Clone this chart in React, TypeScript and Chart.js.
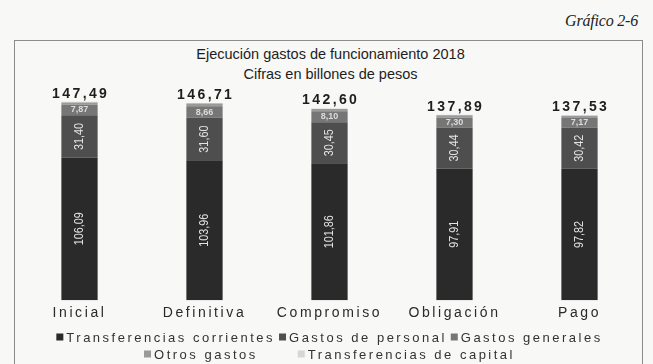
import { useEffect, useRef } from 'react';
import { Chart, registerables } from 'chart.js';

Chart.register(...registerables);

// Ejecución 2018, billones de pesos
const categories = ['Inicial', 'Definitiva', 'Compromiso', 'Obligación', 'Pago'];
const transferenciasCorrientes = [106.09, 103.96, 101.86, 97.91, 97.82];
const gastosPersonal = [31.4, 31.6, 30.45, 30.44, 30.42];
const gastosGenerales = [7.87, 8.66, 8.1, 7.3, 7.17];
const otrosGastos = [1.71, 2.05, 1.8, 1.9, 1.8];
const transferenciasCapital = [0.42, 0.44, 0.39, 0.34, 0.32];

const seriesNames = [
  'Transferencias corrientes',
  'Gastos de personal',
  'Gastos generales',
  'Otros gastos',
  'Transferencias de capital',
];
const seriesColors = ['#2a2a2a', '#4e4e4e', '#767676', '#9a9a9a', '#d6d6d6'];
const legendRows = [[0, 1, 2], [3, 4]];

const fmt = (v: number) => v.toFixed(2).replace('.', ',');

const SANS = '"Liberation Sans", Arial, sans-serif';

// Wide tracking for the axis labels, as in the printed chart
const trackingPlugin = {
  id: 'tracking',
  beforeDraw(chart: any) {
    chart.ctx.letterSpacing = '2.6px';
  },
};

// Values written inside and above the stacked bars
const barLabelsPlugin = {
  id: 'barLabels',
  afterDatasetsDraw(chart: any) {
    const ctx = chart.ctx;
    ctx.save();
    ctx.letterSpacing = '0px';
    ctx.textAlign = 'center';
    ctx.textBaseline = 'middle';

    // rotated labels for the two large segments
    [0, 1].forEach((di) => {
      const meta = chart.getDatasetMeta(di);
      const values = chart.data.datasets[di].data as number[];
      meta.data.forEach((bar: any, i: number) => {
        const cy = (bar.y + bar.base) / 2;
        ctx.save();
        ctx.translate(bar.x, cy);
        ctx.rotate(-Math.PI / 2);
        ctx.scale(0.9, 1);
        ctx.font = `12px ${SANS}`;
        ctx.fillStyle = '#e4e4e4';
        ctx.fillText(fmt(values[i]), 0, 0);
        ctx.restore();
      });
    });

    // small horizontal label for gastos generales
    {
      const meta = chart.getDatasetMeta(2);
      const values = chart.data.datasets[2].data as number[];
      meta.data.forEach((bar: any, i: number) => {
        const cy = (bar.y + bar.base) / 2;
        ctx.font = `bold 9px ${SANS}`;
        ctx.fillStyle = '#dcdcdc';
        ctx.fillText(fmt(values[i]), bar.x, cy);
      });
    }

    // totals above each bar
    const last = chart.getDatasetMeta(chart.data.datasets.length - 1);
    const spacing = 2.4;
    ctx.font = `bold 14px ${SANS}`;
    ctx.letterSpacing = `${spacing}px`;
    ctx.fillStyle = '#1e1e1e';
    ctx.textBaseline = 'bottom';
    last.data.forEach((bar: any, i: number) => {
      const total = chart.data.datasets.reduce(
        (s: number, d: any) => s + (d.data[i] as number),
        0
      );
      ctx.fillText(fmt(total), bar.x + spacing / 2, bar.y - 1);
    });
    ctx.restore();
  },
};

// Two-row legend under the category labels
const legendPlugin = {
  id: 'rowLegend',
  afterDraw(chart: any) {
    const ctx = chart.ctx;
    ctx.save();
    ctx.font = `13px ${SANS}`;
    ctx.letterSpacing = '2.5px';
    ctx.textBaseline = 'middle';
    ctx.textAlign = 'left';
    const centerX = (chart.chartArea.left + chart.chartArea.right) / 2;
    const rowY = [337, 354];
    const gaps = [4, 40];
    const box = 7;
    legendRows.forEach((row, r) => {
      const widths = row.map(
        (di) => box + 3 + ctx.measureText(chart.data.datasets[di].label).width
      );
      const total = widths.reduce((a, b) => a + b, 0) + gaps[r] * (row.length - 1);
      let x = centerX - total / 2;
      row.forEach((di, k) => {
        const ds = chart.data.datasets[di];
        ctx.fillStyle = ds.backgroundColor;
        ctx.fillRect(x, rowY[r] - box / 2, box, box);
        ctx.fillStyle = '#333';
        ctx.fillText(ds.label, x + box + 3, rowY[r] + 1);
        x += widths[k] + gaps[r];
      });
    });
    ctx.restore();
  },
};

export default function App() {
  const canvasRef = useRef<HTMLCanvasElement>(null);

  useEffect(() => {
    if (!canvasRef.current) return;
    const seriesData = [
      transferenciasCorrientes,
      gastosPersonal,
      gastosGenerales,
      otrosGastos,
      transferenciasCapital,
    ];
    const chart = new Chart(canvasRef.current, {
      type: 'bar',
      data: {
        labels: categories,
        datasets: seriesData.map((d, i) => ({
          label: seriesNames[i],
          data: d,
          backgroundColor: seriesColors[i],
          borderWidth: 0,
          categoryPercentage: 1,
          barPercentage: 0.29,
        })),
      },
      options: {
        responsive: false,
        animation: false,
        layout: { padding: { left: 17, right: 11, top: 85, bottom: 37 } },
        plugins: {
          legend: { display: false },
          title: { display: false },
          tooltip: { enabled: false },
        },
        scales: {
          x: {
            stacked: true,
            grid: { display: false, drawTicks: false },
            border: { display: false },
            ticks: {
              color: '#2a2a2a',
              padding: 5,
              font: { family: SANS, size: 14 },
              maxRotation: 0,
              autoSkip: false,
            },
          },
          y: {
            stacked: true,
            display: false,
            min: 0,
            max: 160,
          },
        },
      },
      plugins: [trackingPlugin, barLabelsPlugin, legendPlugin],
    });
    return () => chart.destroy();
  }, []);

  return (
    <div
      style={{
        position: 'absolute',
        left: 0,
        top: 0,
        width: 653,
        height: 364,
        overflow: 'hidden',
        background: '#f8f8f7',
      }}
    >
      <div
        style={{
          position: 'absolute',
          right: 15,
          top: 11,
          fontFamily: '"Liberation Serif", "DejaVu Serif", serif',
          fontStyle: 'italic',
          fontSize: 16,
          lineHeight: '20px',
          color: '#222',
          letterSpacing: '-0.2px',
        }}
      >
        Gráfico 2-6
      </div>
      <div
        style={{
          position: 'absolute',
          left: 14,
          top: 40,
          width: 627,
          height: 360,
          border: '1px solid #8c8c8c',
        }}
      />
      <div
        style={{
          position: 'absolute',
          left: 0,
          width: 653,
          top: 44,
          textAlign: 'center',
          fontFamily: SANS,
          fontSize: 14.5,
          lineHeight: '20px',
          color: '#1e1e1e',
        }}
      >
        <div style={{ paddingLeft: 8 }}>Ejecución gastos de funcionamiento 2018</div>
        <div style={{ paddingLeft: 8 }}>Cifras en billones de pesos</div>
      </div>
      <canvas
        ref={canvasRef}
        width={653}
        height={364}
        style={{ position: 'absolute', left: 0, top: 0 }}
      />
    </div>
  );
}
